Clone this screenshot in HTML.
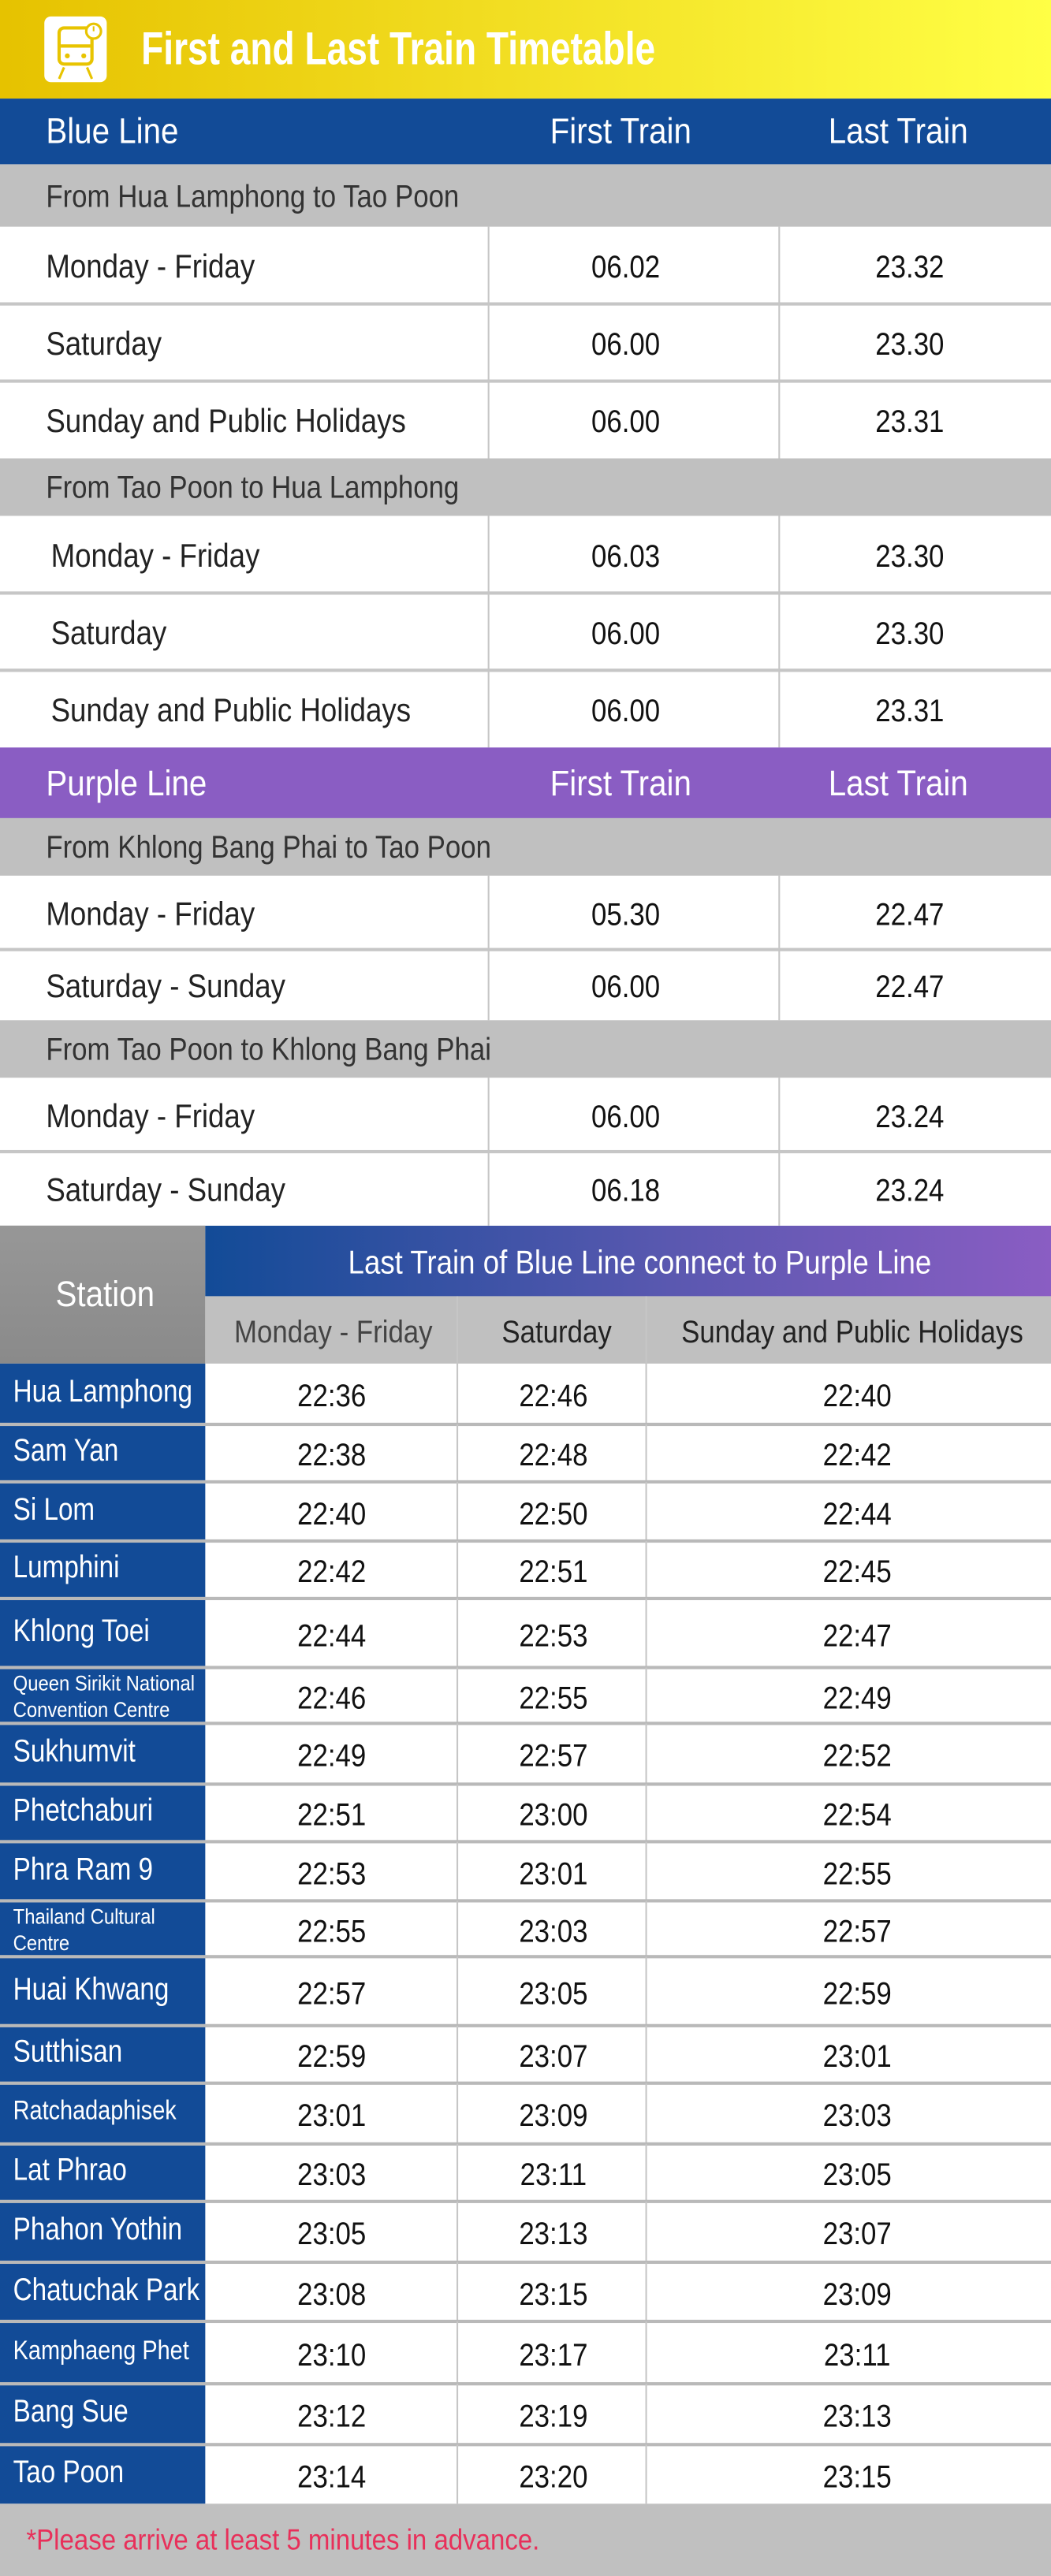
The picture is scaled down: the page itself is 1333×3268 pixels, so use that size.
<!DOCTYPE html>
<html><head><meta charset="utf-8">
<style>
html,body{margin:0;padding:0;background:#fff;}
body{width:1333px;height:3268px;overflow:hidden;}
#page{position:absolute;left:0;top:0;width:640px;height:1568px;transform:scale(2.0828,2.0842);transform-origin:0 0;font-family:"Liberation Sans Narrow","Liberation Sans",sans-serif;}
.a{position:absolute;box-sizing:border-box;}
.t{position:absolute;white-space:nowrap;line-height:1;transform:scaleX(0.88);transform-origin:0 50%;}
.t.c{transform-origin:50% 50%;}
.t.title{transform:scaleX(0.79);}
.t.stn{transform:scaleX(0.84);}
</style></head>
<body>
<div id="page"></div>
<script>
const page=document.getElementById('page');
function box(x,y,w,h,bg,name){
  const el=document.createElement('div');el.className='a';
  el.style.cssText+=`left:${x}px;top:${y}px;width:${w}px;height:${h}px;background:${bg};`;
  
  
  page.appendChild(el);return el;
}
function txt(x,y,s,size,color,name,align,bold){
  const el=document.createElement('div');el.className='t';
  el.textContent=s;
  el.style.cssText+=`top:${y-size*0.5}px;font-size:${size}px;color:${color};${bold?'font-weight:bold;':''}`;
  if(align==='c'){el.className='t c';el.style.left=(x-200)+'px';el.style.width='400px';el.style.textAlign='center';}
  else el.style.left=x+'px';
  
  
  page.appendChild(el);return el;
}
function hline(y,x0,x1,c){box(x0,y-1,x1-x0,2,c||'#c6c6c6','row-divider');}
function vline(x,y0,y1){box(x-0.5,y0,1,y1-y0,'#c6c6c6','column-divider');}

box(0,0,640,60,'linear-gradient(90deg,#e6c200,#f1dc20 45%,#ffff45)','title-bar');
const ic=box(27,10,38,40,'#fff','train-icon');ic.style.borderRadius='4px';
ic.innerHTML='<svg width="38" height="40" viewBox="0 0 38 40"><rect x="9" y="7" width="20" height="22" rx="3" fill="none" stroke="#e8c400" stroke-width="2"/><line x1="10" y1="18" x2="28" y2="18" stroke="#e8c400" stroke-width="2"/><circle cx="14" cy="24" r="1.5" fill="#e8c400"/><circle cx="24" cy="24" r="1.5" fill="#e8c400"/><line x1="12" y1="31" x2="9" y2="38" stroke="#e8c400" stroke-width="1.5"/><line x1="26" y1="31" x2="29" y2="38" stroke="#e8c400" stroke-width="1.5"/><circle cx="30" cy="9" r="4.5" fill="#fff" stroke="#e8c400" stroke-width="1.5"/><line x1="30" y1="9" x2="30" y2="6" stroke="#e8c400"/></svg>';
const ttl=txt(86,30,'First and Last Train Timetable',28,'#fff','title','l',true);
ttl.className='t title';

const c1=297,c2=474;
function lineHeader(y,h,bg,label,name){
  box(0,y,640,h,bg,name);
  txt(28,y+h/2,label,22,'#fff',name+'-label');
  txt(378,y+h/2,'First Train',22,'#fff','first-train-header','c');
  txt(547,y+h/2,'Last Train',22,'#fff','last-train-header','c');
}
function section(y,h,label){box(0,y,640,h,'#c0c0c0','direction-header');txt(28,y+h/2+1,label,19,'#333','direction-label');}
function rows(ys,labels,firsts,lasts,lx){
  for(let i=0;i<labels.length;i++){
    const y0=ys[i],y1=ys[i+1],m=(y0+y1)/2;
    vline(c1,y0,y1);vline(c2,y0,y1);
    if(i>0)hline(y0,0,640);
    txt(lx,m+1,labels[i],20,'#222','day-label');
    txt(381,m+2,firsts[i],19,'#111','first-train-time','c');
    txt(554,m+2,lasts[i],19,'#111','last-train-time','c');
  }
}
lineHeader(60,40,'#124b97','Blue Line','blue-line-header');
section(100,38,'From Hua Lamphong to Tao Poon');
rows([138,185,232,279],['Monday - Friday','Saturday','Sunday and Public Holidays'],['06.02','06.00','06.00'],['23.32','23.30','23.31'],28);
section(279,35,'From Tao Poon to Hua Lamphong');
rows([314,361,408,455],['Monday - Friday','Saturday','Sunday and Public Holidays'],['06.03','06.00','06.00'],['23.30','23.30','23.31'],31);
lineHeader(455,43,'#8a5dc3','Purple Line','purple-line-header');
section(498,35,'From Khlong Bang Phai to Tao Poon');
rows([533,578,621],['Monday - Friday','Saturday - Sunday'],['05.30','06.00'],['22.47','22.47'],28);
section(621,35,'From Tao Poon to Khlong Bang Phai');
rows([656,701,746],['Monday - Friday','Saturday - Sunday'],['06.00','06.18'],['23.24','23.24'],28);

box(0,746,125,84,'linear-gradient(180deg,#979797,#8a8a8a)','station-header');
txt(64,788,'Station',22,'#fff','station-header-label','c');
box(125,746,515,43,'linear-gradient(90deg,#124b97,#5a58b0 55%,#8a5dc3)','connection-header');
txt(388,769,'Last Train of Blue Line connect to Purple Line',20,'#fff','connection-header-label','c');
box(125,789,515,41,'#c0c0c0','day-subheader');
vline(278,789,830);vline(393,789,830);
txt(203,811,'Monday - Friday',19,'#444','subheader-weekday','c');
txt(339,811,'Saturday',19,'#222','subheader-saturday','c');
txt(519,811,'Sunday and Public Holidays',19,'#222','subheader-sunday','c');

const stations=['Hua Lamphong','Sam Yan','Si Lom','Lumphini','Khlong Toei','Queen Sirikit National|Convention Centre','Sukhumvit','Phetchaburi','Phra Ram 9','Thailand Cultural|Centre','Huai Khwang','Sutthisan','Ratchadaphisek','Lat Phrao','Phahon Yothin','Chatuchak Park','Kamphaeng Phet','Bang Sue','Tao Poon'];
const weekday=['22:36','22:38','22:40','22:42','22:44','22:46','22:49','22:51','22:53','22:55','22:57','22:59','23:01','23:03','23:05','23:08','23:10','23:12','23:14'];
const saturday=['22:46','22:48','22:50','22:51','22:53','22:55','22:57','23:00','23:01','23:03','23:05','23:07','23:09','23:11','23:13','23:15','23:17','23:19','23:20'];
const sunday=['22:40','22:42','22:44','22:45','22:47','22:49','22:52','22:54','22:55','22:57','22:59','23:01','23:03','23:05','23:07','23:09','23:11','23:13','23:15'];
const bounds=[830,867,902,938,973,1015,1049,1086,1121,1157,1191,1233,1268,1305,1340,1377,1413,1451,1488,1524];
for(let i=0;i<stations.length;i++){
  const y0=bounds[i],y1=bounds[i+1],m=(y0+y1)/2;
  box(0,y0,125,y1-y0,'#124b97','station-cell');
  if(i>0){hline(y0,0,640,'#b9b9b9');}
  vline(278,y0,y1);vline(393,y0,y1);
  const nm=stations[i];
  let el;
  if(nm.includes('|')){
    const p=nm.split('|');
    el=txt(8,m-8,p[0],13,'#fff','station-name');
    el=txt(8,m+8,p[1],13,'#fff','station-name');
  } else {
    const small=(nm==='Ratchadaphisek'||nm==='Kamphaeng Phet');
    el=txt(8,m-1,nm,small?16.5:19,'#fff','station-name');
    el.className='t stn';
  }
  txt(202,m+2,weekday[i],19,'#111','weekday-time','c');
  txt(337,m+2,saturday[i],19,'#111','saturday-time','c');
  txt(522,m+2,sunday[i],19,'#111','sunday-time','c');
}
box(0,1524,640,44,'#c0c0c0','footer-note-bar');
txt(16,1546,'*Please arrive at least 5 minutes in advance.',18,'#e8305a','footer-note');
</script>
</body></html>
